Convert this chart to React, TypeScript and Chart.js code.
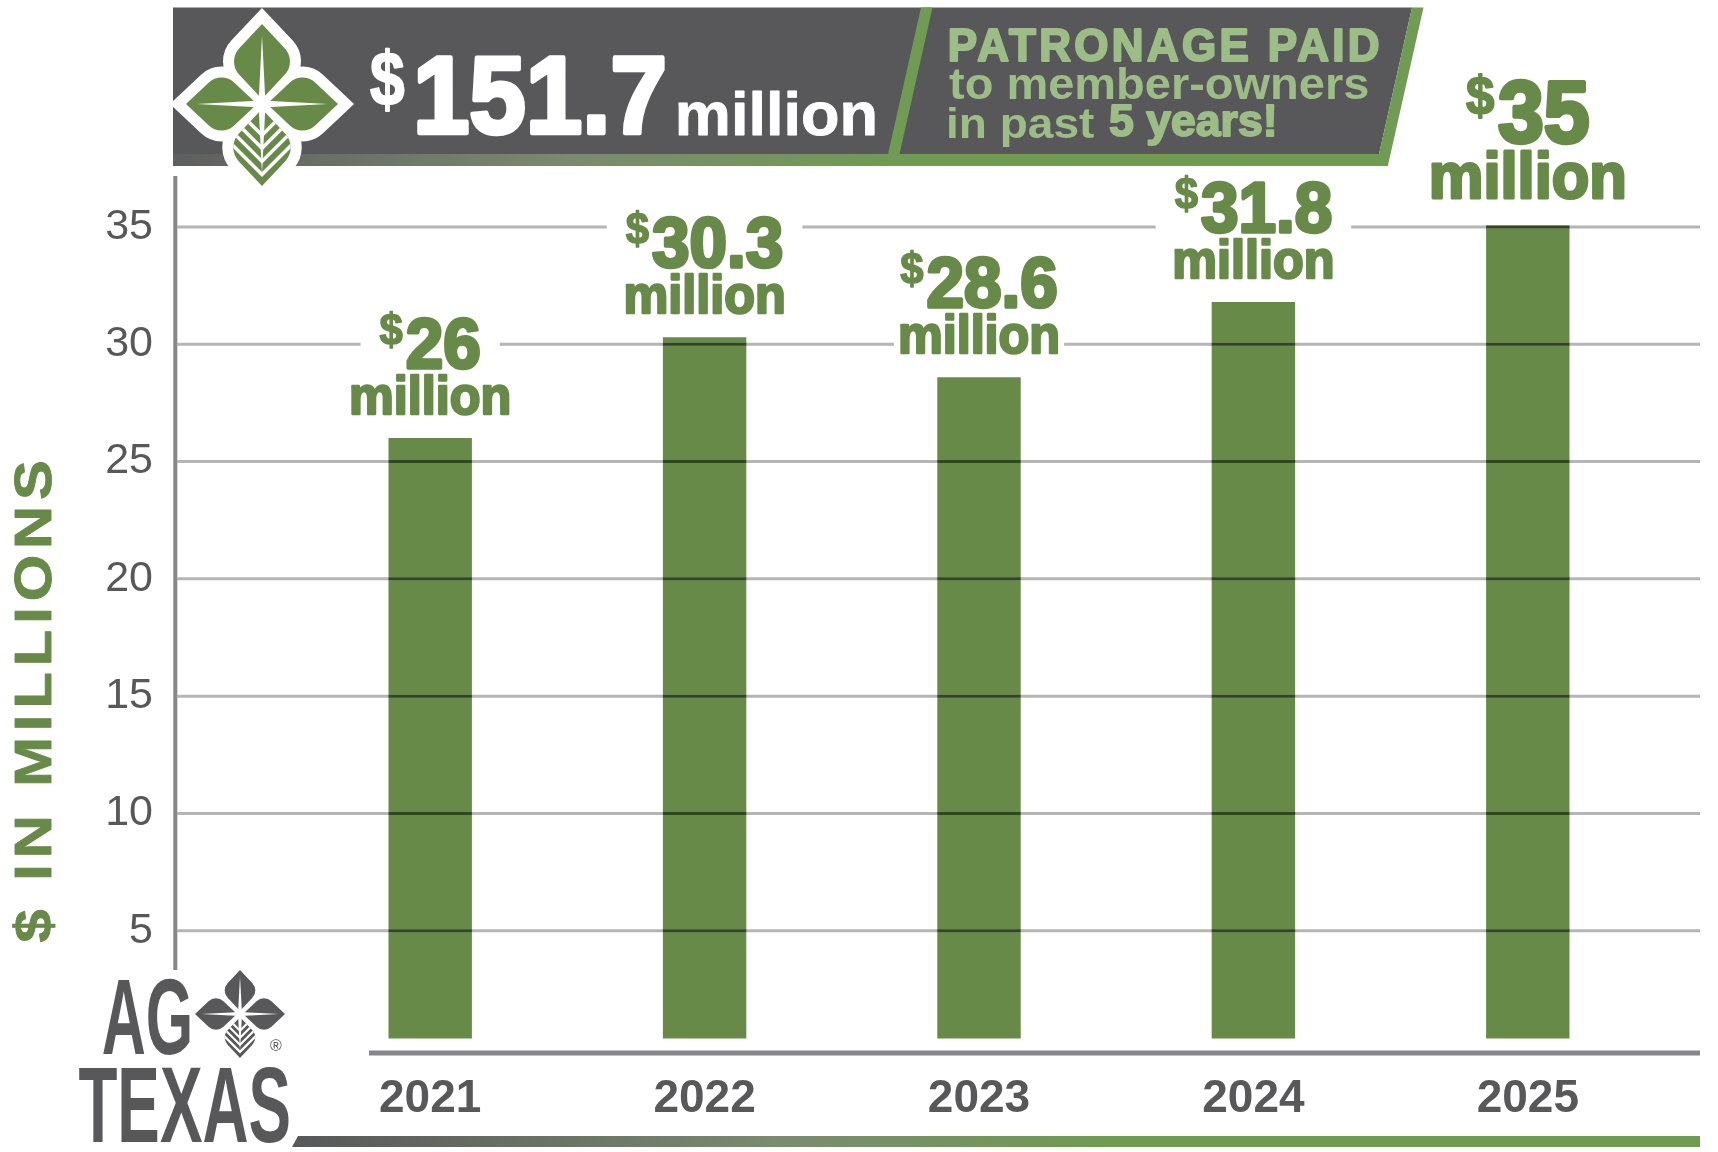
import React, { useEffect, useRef } from 'react';
import { Chart, registerables } from 'chart.js';

Chart.register(...registerables);

// ---------- data ----------
const years = ['2021', '2022', '2023', '2024', '2025'];
const payouts = [26, 30.3, 28.6, 31.8, 35];
const yTickValues = [5, 10, 15, 20, 25, 30, 35];
const headlineLines = ['PATRONAGE PAID', 'to member-owners', 'in past ', '5 years!'];
const unitWord = 'million';
const axisTitle = '$ IN MILLIONS';
const brandWords = ['AG', 'TEXAS'];

// ---------- styles ----------
const GRAY = '#58585a';
const GREEN = '#678a48';
const STRIPE = '#709b53';
const LIGHT = '#9dbd87';
const AXIS = '#87878b';
const GRID = '#b5b5b5';
const GRID_ON_BAR = '#2f4722';
const SANS = '"Liberation Sans", Arial, sans-serif';
const NARROW = '"Liberation Sans Narrow", "Liberation Sans", Arial, sans-serif';

const AXIS_X = 175.3;

type Ctx = CanvasRenderingContext2D;

function fitText(
  ctx: Ctx, text: string, font: string, color: string,
  l: number, r: number, t: number, b: number, spacing = '0px', heavy = 0
) {
  ctx.save();
  ctx.font = font;
  (ctx as any).letterSpacing = spacing;
  ctx.textAlign = 'left';
  ctx.textBaseline = 'alphabetic';
  const m = ctx.measureText(text);
  const inkW = m.actualBoundingBoxLeft + m.actualBoundingBoxRight + heavy;
  const inkH = m.actualBoundingBoxAscent + m.actualBoundingBoxDescent + heavy;
  const sx = (r - l) / inkW;
  const sy = (b - t) / inkH;
  ctx.translate(l + (m.actualBoundingBoxLeft + heavy / 2) * sx, t + (m.actualBoundingBoxAscent + heavy / 2) * sy);
  ctx.scale(sx, sy);
  ctx.fillStyle = color;
  ctx.fillText(text, 0, 0);
  if (heavy > 0) {
    ctx.strokeStyle = color;
    ctx.lineWidth = heavy;
    ctx.lineJoin = 'round';
    ctx.strokeText(text, 0, 0);
  }
  ctx.restore();
}

function drawText(
  ctx: Ctx, text: string, x: number, y: number, font: string, color: string,
  sx = 1, align: CanvasTextAlign = 'left', heavy = 0
) {
  ctx.save();
  ctx.font = font;
  ctx.fillStyle = color;
  ctx.textAlign = align;
  ctx.textBaseline = 'alphabetic';
  ctx.translate(x, y);
  ctx.scale(sx, 1);
  ctx.fillText(text, 0, 0);
  if (heavy > 0) {
    ctx.strokeStyle = color;
    ctx.lineWidth = heavy;
    ctx.lineJoin = 'round';
    ctx.strokeText(text, 0, 0);
  }
  ctx.restore();
}

function textWidth(ctx: Ctx, text: string, font: string, sx = 1) {
  ctx.save();
  ctx.font = font;
  const w = ctx.measureText(text).width * sx;
  ctx.restore();
  return w;
}

function leafPath(ctx: Ctx, L: number, g: number) {
  const len = L - g;
  const u = g + 0.5 * len;
  const v = 0.47 * len;
  const r = 0.26 * len;
  ctx.beginPath();
  ctx.moveTo(0, -g);
  ctx.arcTo(-v, -u, 0, -L, r);
  ctx.lineTo(0, -L);
  ctx.arcTo(v, -u, 0, -g, r);
  ctx.lineTo(0, -g);
  ctx.closePath();
}

function drawEmblem(
  ctx: Ctx, cx: number, cy: number,
  up: number, down: number, side: number,
  fill: string, outline: number, g: number, w0: number, vein: number
) {
  const leaves = [
    { rot: 0, L: up },
    { rot: Math.PI / 2, L: side },
    { rot: Math.PI, L: down },
    { rot: -Math.PI / 2, L: side },
  ];
  ctx.save();
  ctx.translate(cx, cy);
  if (outline > 0) {
    for (const lf of leaves) {
      ctx.save();
      ctx.rotate(lf.rot);
      leafPath(ctx, lf.L, g);
      ctx.strokeStyle = '#fff';
      ctx.fillStyle = '#fff';
      ctx.lineWidth = outline * 2;
      ctx.lineJoin = 'miter';
      ctx.miterLimit = 4;
      ctx.stroke();
      ctx.fill();
      ctx.restore();
    }
    ctx.fillStyle = '#fff';
    ctx.beginPath();
    ctx.arc(0, 0, outline + g, 0, Math.PI * 2);
    ctx.fill();
  }
  for (const lf of leaves) {
    ctx.save();
    ctx.rotate(lf.rot);
    leafPath(ctx, lf.L, g);
    ctx.fillStyle = fill;
    ctx.fill();
    ctx.restore();
  }
  // veins on the lower leaf
  ctx.save();
  ctx.rotate(Math.PI);
  leafPath(ctx, down, g);
  ctx.clip();
  ctx.strokeStyle = '#fff';
  ctx.lineWidth = vein;
  for (const f of [0.38, 0.54, 0.7, 0.86]) {
    const d = down * f;
    ctx.beginPath();
    ctx.moveTo(-down, -d + down);
    ctx.lineTo(0, -d);
    ctx.lineTo(down, -d + down);
    ctx.stroke();
  }
  ctx.restore();
  // star / midribs
  ctx.fillStyle = '#fff';
  for (const lf of leaves) {
    ctx.save();
    ctx.rotate(lf.rot);
    ctx.beginPath();
    ctx.moveTo(-w0, 0);
    ctx.lineTo(0, -lf.L * 0.86);
    ctx.lineTo(w0, 0);
    ctx.closePath();
    ctx.fill();
    ctx.restore();
  }
  ctx.beginPath();
  const s = w0 * 2.6;
  ctx.moveTo(0, -s);
  ctx.lineTo(s, 0);
  ctx.lineTo(0, s);
  ctx.lineTo(-s, 0);
  ctx.closePath();
  ctx.fill();
  ctx.restore();
}

function drawBanner(ctx: Ctx) {
  const top = 7.5;
  const bot = 154;
  const stripBot = 166;
  const slope = 0.225;
  const rightTop = 1412;
  const stripeW = 11.5;
  // dark body
  ctx.fillStyle = GRAY;
  ctx.beginPath();
  ctx.moveTo(173, top);
  ctx.lineTo(rightTop, top);
  ctx.lineTo(rightTop - slope * (bot - top), bot);
  ctx.lineTo(173, bot);
  ctx.closePath();
  ctx.fill();
  // bottom strip gradient
  const grad = ctx.createLinearGradient(173, 0, 900, 0);
  grad.addColorStop(0, '#5e5f5f');
  grad.addColorStop(0.55, '#7a8b6e');
  grad.addColorStop(1, STRIPE);
  ctx.fillStyle = grad;
  ctx.beginPath();
  ctx.moveTo(173, bot);
  ctx.lineTo(rightTop - slope * (bot - top) + 1, bot);
  ctx.lineTo(rightTop - slope * (stripBot - top) + 1, stripBot);
  ctx.lineTo(173, stripBot);
  ctx.closePath();
  ctx.fill();
  // right stripe
  ctx.fillStyle = STRIPE;
  ctx.beginPath();
  ctx.moveTo(rightTop, top);
  ctx.lineTo(rightTop + stripeW, top);
  ctx.lineTo(rightTop + stripeW - slope * (stripBot - top), stripBot);
  ctx.lineTo(rightTop - slope * (stripBot - top), stripBot);
  ctx.closePath();
  ctx.fill();
  // divider stripe
  const dl = 921;
  ctx.beginPath();
  ctx.moveTo(dl, top);
  ctx.lineTo(dl + stripeW, top);
  ctx.lineTo(dl + stripeW - slope * (bot - top), bot);
  ctx.lineTo(dl - slope * (bot - top), bot);
  ctx.closePath();
  ctx.fill();
  // bottom strip of right panel solid green
  ctx.fillRect(dl - slope * (bot - top), bot, rightTop - dl, stripBot - bot);

  // headline texts
  const total = payouts.reduce((a, b) => a + b, 0).toFixed(1);
  fitText(ctx, '$', `bold 80px ${NARROW}`, '#fff', 370, 405, 47.3, 111.7, '0px', 2);
  fitText(ctx, total, `bold 120px ${NARROW}`, '#fff', 416.7, 665, 54, 136.7, '0px', 5);
  fitText(ctx, unitWord, `bold 70px ${SANS}`, '#fff', 678, 875, 90, 136.7, '0px', 1);

  fitText(ctx, headlineLines[0], `bold 52px ${NARROW}`, LIGHT, 949.3, 1379.3, 27.3, 63.3, '4px', 2.5);
  fitText(ctx, headlineLines[1], `bold 46px ${SANS}`, LIGHT, 949, 1367.7, 66.7, 99.3);
  fitText(ctx, headlineLines[2].trim(), `bold 46px ${SANS}`, LIGHT, 949, 1094, 106.7, 146.7);
  fitText(ctx, headlineLines[3], `bold 46px ${NARROW}`, LIGHT, 1109, 1274.3, 105, 146.7, '0px', 2);
}

const overlayPlugin = {
  id: 'overlay',
  afterDatasetsDraw(chart: any) {
    const ctx: Ctx = chart.ctx;
    const area = chart.chartArea;
    const yScale = chart.scales.y;
    const meta = chart.getDatasetMeta(0);
    const gridLeft = AXIS_X + 2;
    const gridRight = area.right + 35;

    // grid lines over bars
    ctx.save();
    ctx.lineWidth = 3;
    for (const v of yTickValues) {
      const py = yScale.getPixelForValue(v);
      ctx.strokeStyle = GRID;
      ctx.beginPath();
      ctx.moveTo(gridLeft, py);
      ctx.lineTo(gridRight, py);
      ctx.stroke();
      ctx.strokeStyle = GRID_ON_BAR;
      for (const bar of meta.data) {
        const p = bar.getProps(['x', 'y', 'width', 'base'], true);
        if (py >= p.y && py <= p.base) {
          ctx.beginPath();
          ctx.moveTo(p.x - p.width / 2, py);
          ctx.lineTo(p.x + p.width / 2, py);
          ctx.stroke();
        }
      }
    }
    ctx.restore();

    // axis lines
    ctx.save();
    ctx.strokeStyle = AXIS;
    ctx.lineWidth = 4;
    ctx.beginPath();
    ctx.moveTo(AXIS_X, area.top - 51);
    ctx.lineTo(AXIS_X, area.bottom - 78);
    ctx.stroke();
    ctx.lineWidth = 5;
    ctx.beginPath();
    ctx.moveTo(369, area.bottom + 5);
    ctx.lineTo(gridRight, area.bottom + 5);
    ctx.stroke();
    ctx.restore();

    // value labels
    meta.data.forEach((bar: any, i: number) => {
      const p = bar.getProps(['x', 'y'], true);
      const s = i === payouts.length - 1 ? 1.22 : 1;
      const sx = 0.95;
      const num = String(payouts[i]);
      const numFont = `bold ${71 * s}px ${SANS}`;
      const dolFont = `bold ${44 * s}px ${SANS}`;
      const milFont = `bold ${53 * s}px ${SANS}`;
      const wN = textWidth(ctx, num, numFont, sx);
      const wD = textWidth(ctx, '$', dolFont, sx);
      const wM = textWidth(ctx, unitWord, milFont, sx);
      const gap = 3 * s;
      const totalW = wD + gap + wN;
      const left = p.x - totalW / 2;
      const numBase = p.y - 70 * s;
      const milBase = p.y - 24 * s;
      ctx.save();
      ctx.fillStyle = '#fff';
      ctx.fillRect(left - 19 * s, numBase - 62 * s, totalW + 38 * s, 68 * s);
      ctx.fillRect(p.x - wM / 2 - 4, milBase - 44 * s, wM + 8, 48 * s);
      ctx.restore();
      drawText(ctx, '$', left, numBase - 23 * s, dolFont, GREEN, sx, 'left', 1.5 * s);
      drawText(ctx, num, left + wD + gap, numBase, numFont, GREEN, sx, 'left', 3.5 * s);
      drawText(ctx, unitWord, p.x, milBase, milFont, GREEN, sx, 'center', 2.5 * s);
    });
  },
  afterDraw(chart: any) {
    const ctx: Ctx = chart.ctx;
    drawBanner(ctx);
    drawEmblem(ctx, 262, 104, 80, 82, 76, GREEN, 11, 5, 3.5, 3.5);

    // axis title
    ctx.save();
    ctx.translate(33.35, 702.35);
    ctx.rotate(-Math.PI / 2);
    fitText(ctx, axisTitle, `bold 60px ${SANS}`, GREEN, -240.65, 240.65, -21.65, 21.65, '6px', 1);
    ctx.restore();

    // brand logo
    fitText(ctx, brandWords[0], `bold 105px ${NARROW}`, GRAY, 103, 190, 978, 1055);
    fitText(ctx, brandWords[1], `bold 107px ${NARROW}`, GRAY, 79, 289, 1066, 1143);
    drawEmblem(ctx, 240, 1014, 44, 44, 45, GRAY, 0, 3, 2, 2.2);
    ctx.save();
    ctx.font = `16px ${SANS}`;
    ctx.fillStyle = GRAY;
    ctx.textAlign = 'center';
    ctx.textBaseline = 'middle';
    ctx.fillText('®', 276, 1047);
    ctx.restore();

    // bottom gradient strip
    const grad = ctx.createLinearGradient(292, 0, 1100, 0);
    grad.addColorStop(0, GRAY);
    grad.addColorStop(0.6, '#7a8b6e');
    grad.addColorStop(1, STRIPE);
    ctx.fillStyle = grad;
    ctx.beginPath();
    ctx.moveTo(298, 1136);
    ctx.lineTo(1700, 1136);
    ctx.lineTo(1700, 1147);
    ctx.lineTo(292, 1147);
    ctx.closePath();
    ctx.fill();
  },
};

export default function App() {
  const ref = useRef<HTMLCanvasElement>(null);
  useEffect(() => {
    const canvas = ref.current;
    if (!canvas) return;
    const chart = new Chart(canvas, {
      type: 'bar',
      data: {
        labels: years,
        datasets: [
          {
            data: payouts,
            backgroundColor: GREEN,
            borderWidth: 0,
            barPercentage: 0.304,
            categoryPercentage: 1,
            base: 0.4,
          } as any,
        ],
      },
      options: {
        responsive: false,
        animation: false,
        devicePixelRatio: 1,
        layout: { padding: { top: 227, right: 53, left: 0, bottom: 0 } },
        plugins: { legend: { display: false }, tooltip: { enabled: false } },
        scales: {
          x: {
            type: 'category',
            offset: true,
            grid: { display: false, drawTicks: false },
            border: { display: false },
            ticks: {
              color: GRAY,
              font: { family: SANS, weight: 'bold', size: 46 },
              padding: 24,
              maxRotation: 0,
              autoSkip: false,
            },
            afterFit: (s: any) => {
              s.height = 104;
              s.paddingLeft = 0;
              s.paddingRight = 0;
            },
          },
          y: {
            min: 0,
            max: 35,
            grid: { display: false, drawTicks: false },
            border: { display: false },
            afterBuildTicks: (s: any) => {
              s.ticks = yTickValues.map((v) => ({ value: v }));
            },
            ticks: {
              color: GRAY,
              font: { family: SANS, size: 43 },
              padding: 140,
            },
            afterFit: (s: any) => {
              s.width = 293;
              s.paddingTop = 0;
              s.paddingBottom = 0;
            },
          },
        },
      } as any,
      plugins: [overlayPlugin],
    });
    return () => chart.destroy();
  }, []);
  return (
    <div style={{ position: 'absolute', left: 0, top: 0, width: 1718, height: 1152, background: '#fff' }}>
      <canvas ref={ref} width={1718} height={1152} style={{ display: 'block' }} />
    </div>
  );
}
